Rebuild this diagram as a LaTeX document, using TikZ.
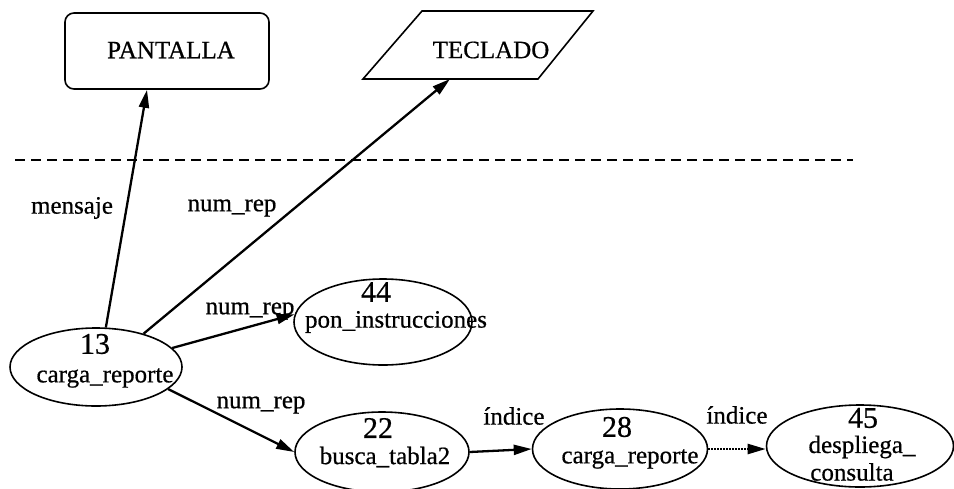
\documentclass[tikz,border=0pt]{standalone}
\usepackage{fontspec}
\setmainfont{Liberation Serif}[FakeBold=0.6]
\usetikzlibrary{shapes.geometric,arrows.meta}
\begin{document}
\begin{tikzpicture}[x=1pt,y=-1pt,
  proc/.style={ellipse,draw,line width=1.6pt,inner sep=0pt},
  num/.style={font=\fontsize{30}{30}\selectfont,inner sep=0pt},
  lbl/.style={font=\fontsize{25}{25}\selectfont,inner sep=0pt},
  ext/.style={font=\fontsize{25}{25}\selectfont,inner sep=0pt},
  flow/.style={line width=2.3pt,-{Triangle[length=18pt,width=10pt]}},
  sep/.style={line width=1.4pt,dash pattern=on 10pt off 6pt}
  ]
\useasboundingbox (0,0) rectangle (954,488);
% external entities
\node[draw,rounded corners=9pt,line width=1.6pt,minimum width=204pt,minimum height=76pt] (pant) at (167,51) {};
\node[ext] (pantT) at (171,50) {PANTALLA};
\coordinate (tA) at (363,79);
\coordinate (tB) at (422,11);
\coordinate (tC) at (593,11);
\coordinate (tD) at (538,79);
\draw[line width=1.6pt] (tA) -- (tB) -- (tC) -- (tD) -- cycle;
\node[ext] (tecT) at (491,50) {TECLADO};
\coordinate (tecIn) at (450,79);
% separator
\coordinate (dL) at (15,160);
\coordinate (dR) at (853,160);
\draw[sep] (dL) -- (dR);
% processes
\node[proc,minimum width=172pt,minimum height=78pt] (e13) at (96,367) {};
\node[num] (n13) at (95,344) {13};
\node[lbl] (t13) at (105,378) {carga\_reporte};
\node[proc,minimum width=178pt,minimum height=86pt] (e44) at (383,322) {};
\node[num] (n44) at (376,292) {44};
\node[lbl] (t44) at (396,322) {pon\_instrucciones};
\node[proc,minimum width=174pt,minimum height=80pt] (e22) at (382,452) {};
\node[num] (n22) at (378,428) {22};
\node[lbl] (t22) at (385,457) {busca\_tabla2};
\node[proc,minimum width=175pt,minimum height=80pt] (e28) at (620,449) {};
\node[num] (n28) at (617,427) {28};
\node[lbl] (t28) at (630,459) {carga\_reporte};
\node[proc,minimum width=187pt,minimum height=82pt] (e45) at (860,446) {};
\node[num] (n45) at (863,418) {45};
\node[lbl] (t45a) at (862,447) {despliega\_};
\node[lbl] (t45b) at (852,472) {consulta};
% flows
\draw[flow] (e13.76) -- ([xshift=-20pt]pant.south);
\draw[flow] (e13.35) -- (tecIn);
\draw[flow] (e13.14) -- (e44.175);
\draw[flow] (e13.-17) -- (e22.west);
\draw[flow] (e22.east) -- (e28.west);
\draw[flow,dash pattern=on 2pt off 1pt] (e28.east) -- (e28.east -| e45.west);
% flow labels
\node[lbl] (lMens) at (72,208) {mensaje};
\node[lbl] (lNum1) at (232,208) {num\_rep};
\node[lbl] (lNum2) at (250,311) {num\_rep};
\node[lbl] (lNum3) at (261,405) {num\_rep};
\node[lbl] (lInd1) at (514,416) {índice};
\node[lbl] (lInd2) at (737,415) {índice};
\end{tikzpicture}
\end{document}
